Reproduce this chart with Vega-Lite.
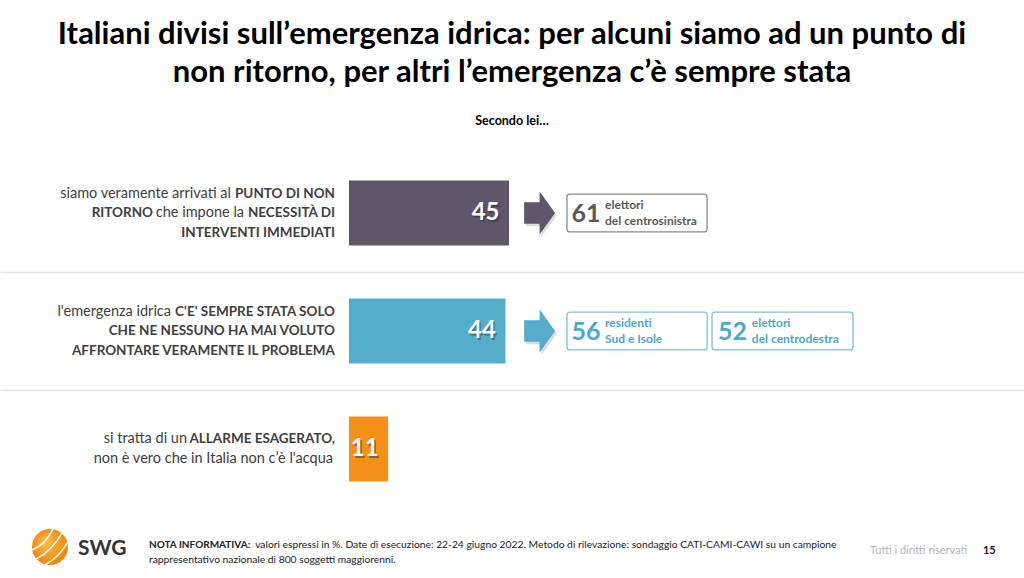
{
  "$schema": "https://vega.github.io/schema/vega-lite/v6.json",
  "width": 1024,
  "height": 354,
  "autosize": {"type": "none"},
  "padding": {"top": 154, "left": 0, "right": 0, "bottom": 70},
  "background": "white",
  "config": {"view": {"stroke": null}, "font": "Lato"},
  "title": {
    "text": ["Italiani divisi sull’emergenza idrica: per alcuni siamo ad un punto di", "non ritorno, per altri l’emergenza c’è sempre stata"],
    "subtitle": "Secondo lei…",
    "anchor": "middle",
    "font": "Lato",
    "fontSize": 31,
    "fontWeight": "bold",
    "color": "#000000",
    "lineHeight": 37.5,
    "subtitleFont": "Lato",
    "subtitleFontSize": 12.5,
    "subtitleFontWeight": "bold",
    "subtitleColor": "#000000",
    "subtitlePadding": 26,
    "offset": 26
  },
  "datasets": {
    "voci": [
      {"item": "Punto di non ritorno", "valore": 45},
      {"item": "C'è sempre stata", "valore": 44},
      {"item": "Allarme esagerato", "valore": 11}
    ],
    "etichette": [
      {"item": "Punto di non ritorno", "part": "boldR", "text": ["PUNTO DI NON", "NECESSITÀ DI", "INTERVENTI IMMEDIATI"]},
      {"item": "C'è sempre stata", "part": "boldR", "text": ["C'E' SEMPRE STATA SOLO", "CHE NE NESSUNO HA MAI VOLUTO", "AFFRONTARE VERAMENTE IL PROBLEMA"]},
      {"item": "Allarme esagerato", "part": "boldR", "text": ["ALLARME ESAGERATO,", ""]},
      {"item": "Allarme esagerato", "part": "normR", "text": ["", "non è vero che in Italia non c’è l'acqua"]},
      {"item": "Punto di non ritorno", "part": "norm2a", "text": ["siamo veramente arrivati al", "", ""]},
      {"item": "Punto di non ritorno", "part": "norm2b", "text": ["", "che impone la", ""]},
      {"item": "C'è sempre stata", "part": "norm2c", "text": ["l'emergenza idrica", "", ""]},
      {"item": "Allarme esagerato", "part": "norm2d", "text": ["si tratta di un", ""]},
      {"item": "Punto di non ritorno", "part": "bold3", "text": ["", "RITORNO", ""]}
    ],
    "focus": [
      {"item": "Punto di non ritorno", "slot": 1, "valore": 61, "gruppo": ["elettori", "del centrosinistra"]},
      {"item": "C'è sempre stata", "slot": 1, "valore": 56, "gruppo": ["residenti", "Sud e Isole"]},
      {"item": "C'è sempre stata", "slot": 2, "valore": 52, "gruppo": ["elettori", "del centrodestra"]}
    ],
    "nota": [
      {"logo": "SWG", "titolo": "NOTA INFORMATIVA:", "riga1": "valori espressi in %. Date di esecuzione: 22-24 giugno 2022. Metodo di rilevazione: sondaggio CATI-CAMI-CAWI su un campione", "riga2": "rappresentativo nazionale di 800 soggetti maggiorenni.", "diritti": "Tutti i diritti riservati", "pagina": "15"}
    ]
  },
  "layer": [
    {
      "data": {"name": "voci"},
      "mark": {"type": "bar", "height": {"band": 0.55}},
      "encoding": {
        "x": {"field": "valore", "type": "quantitative", "scale": {"domain": [-98.16, 189.84], "zero": false, "nice": false}, "axis": null},
        "x2": {"datum": 0},
        "y": {
          "field": "item", "type": "nominal",
          "scale": {"domain": ["Punto di non ritorno", "C'è sempre stata", "Allarme esagerato"], "paddingInner": 0, "paddingOuter": 0},
          "axis": {"title": null, "labels": false, "ticks": false, "domain": false, "grid": true, "values": ["C'è sempre stata", "Allarme esagerato"], "bandPosition": 0, "gridColor": "#e4e4e4", "gridWidth": 1.5}
        },
        "color": {"field": "item", "type": "nominal", "scale": {"domain": ["Punto di non ritorno", "C'è sempre stata", "Allarme esagerato"], "range": ["#5F5769", "#55ACCB", "#F39019"]}, "legend": null}
      }
    },
    {
      "data": {"name": "voci"},
      "mark": {"type": "text", "align": "right", "baseline": "middle", "dx": -8, "dy": 1.5, "fontSize": 24, "fontWeight": "bold", "fill": "#2a2a2a", "opacity": 0.45},
      "encoding": {
        "x": {"field": "valore", "type": "quantitative"},
        "y": {"field": "item", "type": "nominal"},
        "text": {"field": "valore", "type": "quantitative"}
      }
    },
    {
      "data": {"name": "voci"},
      "mark": {"type": "text", "align": "right", "baseline": "middle", "dx": -9.5, "fontSize": 24, "fontWeight": "bold", "fill": "#ffffff"},
      "encoding": {
        "x": {"field": "valore", "type": "quantitative"},
        "y": {"field": "item", "type": "nominal"},
        "text": {"field": "valore", "type": "quantitative"}
      }
    },
    {
      "data": {"name": "voci"},
      "transform": [{"filter": "datum.item !== 'Allarme esagerato'"}],
      "mark": {"type": "point", "filled": true, "opacity": 0.35, "size": 1849, "fill": "#9a9a9a", "shape": "M-0.72,-0.5 L0,-0.5 L0,-1 L0.72,0 L0,1 L0,0.5 L-0.72,0.5 Z"},
      "encoding": {
        "x": {"datum": 54.1},
        "y": {"field": "item", "type": "nominal"},
        "yOffset": {"value": 61.5}
      }
    },
    {
      "data": {"name": "voci"},
      "transform": [{"filter": "datum.item !== 'Allarme esagerato'"}],
      "mark": {"type": "point", "filled": true, "opacity": 1, "size": 1849, "shape": "M-0.72,-0.5 L0,-0.5 L0,-1 L0.72,0 L0,1 L0,0.5 L-0.72,0.5 Z"},
      "encoding": {
        "x": {"datum": 53.6},
        "y": {"field": "item", "type": "nominal"},
        "color": {"field": "item", "type": "nominal"}
      }
    },
    {
      "data": {"name": "focus"},
      "transform": [{"filter": "datum.slot === 1"}],
      "mark": {"type": "bar", "fill": "#ffffff", "strokeWidth": 1.3, "cornerRadius": 3, "height": {"band": 0.32}},
      "encoding": {
        "x": {"datum": 61.3},
        "x2": {"datum": 100.7},
        "y": {"field": "item", "type": "nominal"},
        "stroke": {"field": "item", "type": "nominal", "scale": {"domain": ["Punto di non ritorno", "C'è sempre stata"], "range": ["#8C8C8C", "#7EC0D8"]}, "legend": null}
      }
    },
    {
      "data": {"name": "focus"},
      "transform": [{"filter": "datum.slot === 2"}],
      "mark": {"type": "bar", "fill": "#ffffff", "strokeWidth": 1.3, "cornerRadius": 3, "height": {"band": 0.32}},
      "encoding": {
        "x": {"datum": 102.1},
        "x2": {"datum": 141.75},
        "y": {"field": "item", "type": "nominal"},
        "stroke": {"field": "item", "type": "nominal", "legend": null}
      }
    },
    {
      "data": {"name": "focus"},
      "transform": [{"filter": "datum.slot === 1"}],
      "mark": {"type": "text", "align": "left", "baseline": "middle", "fontSize": 25, "fontWeight": "bold", "dy": 1},
      "encoding": {
        "x": {"datum": 62.6},
        "y": {"field": "item", "type": "nominal"},
        "text": {"field": "valore", "type": "quantitative"},
        "fill": {"field": "item", "type": "nominal", "scale": {"domain": ["Punto di non ritorno", "C'è sempre stata"], "range": ["#595959", "#4BA9CB"]}, "legend": null}
      }
    },
    {
      "data": {"name": "focus"},
      "transform": [{"filter": "datum.slot === 2"}],
      "mark": {"type": "text", "align": "left", "baseline": "middle", "fontSize": 25, "fontWeight": "bold", "dy": 1},
      "encoding": {
        "x": {"datum": 103.8},
        "y": {"field": "item", "type": "nominal"},
        "text": {"field": "valore", "type": "quantitative"},
        "fill": {"field": "item", "type": "nominal", "legend": null}
      }
    },
    {
      "data": {"name": "focus"},
      "transform": [{"filter": "datum.slot === 1"}],
      "mark": {"type": "text", "align": "left", "baseline": "middle", "fontSize": 12, "fontWeight": "bold", "lineHeight": 16, "dy": -8},
      "encoding": {
        "x": {"datum": 72.0},
        "y": {"field": "item", "type": "nominal"},
        "text": {"field": "gruppo"},
        "fill": {"field": "item", "type": "nominal", "legend": null}
      }
    },
    {
      "data": {"name": "focus"},
      "transform": [{"filter": "datum.slot === 2"}],
      "mark": {"type": "text", "align": "left", "baseline": "middle", "fontSize": 12, "fontWeight": "bold", "lineHeight": 16, "dy": -8},
      "encoding": {
        "x": {"datum": 113.3},
        "y": {"field": "item", "type": "nominal"},
        "text": {"field": "gruppo"},
        "fill": {"field": "item", "type": "nominal", "legend": null}
      }
    },
    {
      "data": {"name": "etichette"},
      "transform": [{"filter": "datum.part === 'boldR' && datum.item !== 'Allarme esagerato'"}],
      "mark": {"type": "text", "align": "right", "baseline": "middle", "fontSize": 13.5, "fontWeight": "bold", "lineHeight": 19.5, "fill": "#404040", "dx": -14, "dy": -19.5},
      "encoding": {"x": {"datum": 0}, "y": {"field": "item", "type": "nominal"}, "text": {"field": "text"}}
    },
    {
      "data": {"name": "etichette"},
      "transform": [{"filter": "datum.part === 'boldR' && datum.item === 'Allarme esagerato'"}],
      "mark": {"type": "text", "align": "right", "baseline": "middle", "fontSize": 13.5, "fontWeight": "bold", "lineHeight": 20, "fill": "#404040", "dx": -14, "dy": -10},
      "encoding": {"x": {"datum": 0}, "y": {"field": "item", "type": "nominal"}, "text": {"field": "text"}}
    },
    {
      "data": {"name": "etichette"},
      "transform": [{"filter": "datum.part === 'normR'"}],
      "mark": {"type": "text", "align": "right", "baseline": "middle", "fontSize": 14.5, "fontWeight": "normal", "lineHeight": 20, "fill": "#404040", "dx": -16, "dy": -10},
      "encoding": {"x": {"datum": 0}, "y": {"field": "item", "type": "nominal"}, "text": {"field": "text"}}
    },
    {
      "data": {"name": "etichette"},
      "transform": [{"filter": "datum.part === 'norm2a'"}],
      "mark": {"type": "text", "align": "right", "baseline": "middle", "fontSize": 14.5, "fontWeight": "normal", "lineHeight": 19.5, "fill": "#404040", "dx": -118, "dy": -19.5},
      "encoding": {"x": {"datum": 0}, "y": {"field": "item", "type": "nominal"}, "text": {"field": "text"}}
    },
    {
      "data": {"name": "etichette"},
      "transform": [{"filter": "datum.part === 'norm2b'"}],
      "mark": {"type": "text", "align": "right", "baseline": "middle", "fontSize": 14.5, "fontWeight": "normal", "lineHeight": 19.5, "fill": "#404040", "dx": -105, "dy": -19.5},
      "encoding": {"x": {"datum": 0}, "y": {"field": "item", "type": "nominal"}, "text": {"field": "text"}}
    },
    {
      "data": {"name": "etichette"},
      "transform": [{"filter": "datum.part === 'norm2c'"}],
      "mark": {"type": "text", "align": "right", "baseline": "middle", "fontSize": 14.5, "fontWeight": "normal", "lineHeight": 19.5, "fill": "#404040", "dx": -178, "dy": -19.5},
      "encoding": {"x": {"datum": 0}, "y": {"field": "item", "type": "nominal"}, "text": {"field": "text"}}
    },
    {
      "data": {"name": "etichette"},
      "transform": [{"filter": "datum.part === 'norm2d'"}],
      "mark": {"type": "text", "align": "right", "baseline": "middle", "fontSize": 14.5, "fontWeight": "normal", "lineHeight": 20, "fill": "#404040", "dx": -162, "dy": -10},
      "encoding": {"x": {"datum": 0}, "y": {"field": "item", "type": "nominal"}, "text": {"field": "text"}}
    },
    {
      "data": {"name": "etichette"},
      "transform": [{"filter": "datum.part === 'bold3'"}],
      "mark": {"type": "text", "align": "right", "baseline": "middle", "fontSize": 13.5, "fontWeight": "bold", "lineHeight": 19.5, "fill": "#404040", "dx": -196, "dy": -19.5},
      "encoding": {"x": {"datum": 0}, "y": {"field": "item", "type": "nominal"}, "text": {"field": "text"}}
    },
    {
      "data": {"name": "nota"},
      "mark": {"type": "point", "shape": "circle", "filled": true, "opacity": 1, "size": 1300, "fill": {"gradient": "radial", "x1": 0.35, "y1": 0.35, "r1": 0, "x2": 0.5, "y2": 0.5, "r2": 0.6, "stops": [{"offset": 0, "color": "#FFC04A"}, {"offset": 1, "color": "#EE7A00"}]}},
      "encoding": {"x": {"datum": -84.1}, "y": {"datum": "Allarme esagerato", "type": "nominal"}, "yOffset": {"value": 157}}
    },
    {
      "data": {"name": "nota"},
      "mark": {"type": "point", "filled": false, "opacity": 1, "size": 1500, "stroke": "#ffffff", "strokeWidth": 1.6, "shape": "M-0.92,0.15 Q-0.25,-0.1 0.15,-0.92 M-0.72,0.62 Q0.05,0.25 0.62,-0.72 M-0.25,0.92 Q0.45,0.55 0.92,-0.25"},
      "encoding": {"x": {"datum": -84.1}, "y": {"datum": "Allarme esagerato", "type": "nominal"}, "yOffset": {"value": 157}}
    },
    {
      "data": {"name": "nota"},
      "mark": {"type": "text", "align": "left", "baseline": "middle", "fontSize": 21, "fontWeight": "bold", "fill": "#333333", "dy": 100},
      "encoding": {"x": {"datum": -76.2}, "y": {"datum": "Allarme esagerato", "type": "nominal"}, "text": {"field": "logo"}}
    },
    {
      "data": {"name": "nota"},
      "mark": {"type": "text", "align": "left", "baseline": "middle", "fontSize": 10, "fontWeight": "bold", "fill": "#222222", "dy": 96},
      "encoding": {"x": {"datum": -56.25}, "y": {"datum": "Allarme esagerato", "type": "nominal"}, "text": {"field": "titolo"}}
    },
    {
      "data": {"name": "nota"},
      "mark": {"type": "text", "align": "left", "baseline": "middle", "fontSize": 10.3, "fill": "#222222", "dy": 96},
      "encoding": {"x": {"datum": -26.4}, "y": {"datum": "Allarme esagerato", "type": "nominal"}, "text": {"field": "riga1"}}
    },
    {
      "data": {"name": "nota"},
      "mark": {"type": "text", "align": "left", "baseline": "middle", "fontSize": 10.3, "fill": "#222222", "dy": 111},
      "encoding": {"x": {"datum": -56.25}, "y": {"datum": "Allarme esagerato", "type": "nominal"}, "text": {"field": "riga2"}}
    },
    {
      "data": {"name": "nota"},
      "mark": {"type": "text", "align": "left", "baseline": "middle", "fontSize": 11, "fill": "#b5b5b5", "dy": 102},
      "encoding": {"x": {"datum": 146.5}, "y": {"datum": "Allarme esagerato", "type": "nominal"}, "text": {"field": "diritti"}}
    },
    {
      "data": {"name": "nota"},
      "mark": {"type": "text", "align": "left", "baseline": "middle", "fontSize": 11, "fontWeight": "bold", "fill": "#222222", "dy": 102},
      "encoding": {"x": {"datum": 178.3}, "y": {"datum": "Allarme esagerato", "type": "nominal"}, "text": {"field": "pagina"}}
    }
  ]
}
